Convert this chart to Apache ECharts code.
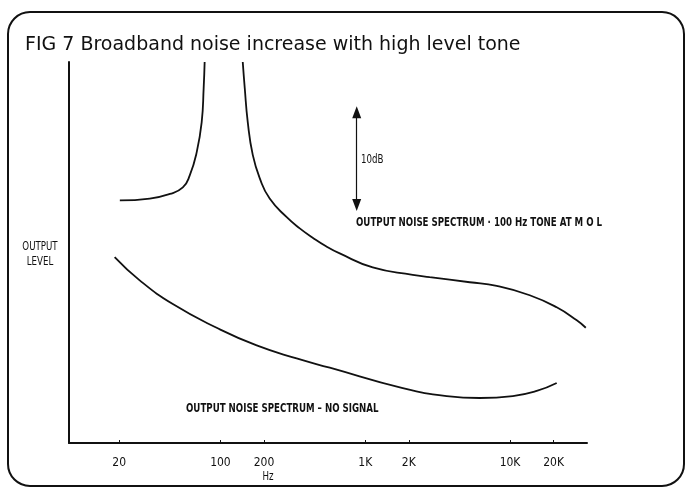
<!DOCTYPE html>
<html>
<head>
<meta charset="utf-8">
<script src="https://cdn.jsdelivr.net/npm/echarts@6/dist/echarts.min.js"></script>
<style>
  html, body { margin: 0; padding: 0; background: #fff; }
  #main { width: 686px; height: 490px; }
</style>
</head>
<body>
<div id="main"></div>
<script>
// x axis ticks (Hz) and their printed labels
var tickHz = [20, 100, 200, 1000, 2000, 10000, 20000];
var tickText = ['20', '100', '200', '1K', '2K', '10K', '20K'];

// output level, dB above an arbitrary floor
var noSignal = [
    [18.6, 20.0], [27.7, 17.5], [46.9, 14.95], [94.2, 12.4], [178, 10.5],
    [336, 9.1], [569, 8.1], [1817, 5.9], [3653, 5.05],
    [6180, 4.84], [10450, 5.05], [15290, 5.6], [21000, 6.45]
];
// 100 Hz tone: skirt below the tone, then skirt above it
var toneBelow = [
    [20.2, 26.1], [32.5, 26.3], [44.7, 26.8], [55, 27.5], [61.4, 28.8],
    [68.6, 31.3], [74.2, 34.5], [76.6, 38.2], [77.8, 41]
];
var toneAbove = [
    [142.6, 41], [147.2, 38.2], [154.5, 34.5], [167.2, 31.0], [186.7, 28.5],
    [218.8, 26.3], [287, 24.3], [353, 23.1], [433.5, 22.1], [533, 21.2],
    [666.8, 20.4], [1127, 18.9], [2128, 18.1], [2786, 17.85], [5272, 17.3],
    [8091, 16.9], [13680, 15.9], [21000, 14.6], [28900, 13.2], [33350, 12.4]
];
// the 10 dB scale arrow
var arrowHz = 873;
var arrowDb = [25.6, 35.6];

var ink = '#111';
var narrow = '"DejaVu Sans Condensed", "Liberation Sans Narrow", sans-serif';

var myChart = echarts.init(document.getElementById('main'));

function curve(data) {
    return {
        type: 'line',
        data: data,
        smooth: 0.5,
        showSymbol: false,
        lineStyle: { color: ink, width: 1.8 }
    };
}

// squeezed stencil-like lettering
function label(x, y, text, bold, align) {
    return {
        type: 'text',
        x: x,
        y: y,
        scaleX: 0.74,
        silent: true,
        style: {
            text: text,
            fill: ink,
            font: (bold ? 'bold ' : '') + '13px ' + narrow,
            align: align || 'left',
            verticalAlign: 'middle',
            lineHeight: 15
        }
    };
}

var lowSeries = curve(noSignal);
lowSeries.markLine = {
    silent: true,
    symbol: ['triangle', 'triangle'],
    symbolSize: [9, 12],
    lineStyle: { color: ink, type: 'solid', width: 1.2 },
    label: { show: false },
    data: [[{ coord: [arrowHz, arrowDb[1]] }, { coord: [arrowHz, arrowDb[0]] }]]
};

var option = {
    animation: false,
    title: {
        text: 'FIG 7 Broadband noise increase with high level tone',
        left: 20,
        top: 31,
        textStyle: {
            fontFamily: 'DejaVu Sans',
            fontSize: 19,
            fontWeight: 'normal',
            color: ink
        }
    },
    grid: { left: 69, right: 99, top: 62, bottom: 47 },
    xAxis: {
        type: 'log',
        min: 9,
        max: 34000,
        axisLine: { lineStyle: { color: ink, width: 2 } },
        axisTick: { customValues: tickHz, length: 3, inside: true, lineStyle: { color: ink } },
        axisLabel: {
            customValues: tickHz,
            color: ink,
            fontFamily: narrow,
            fontSize: 12,
            margin: 14,
            formatter: function (v) {
                for (var i = 0; i < tickHz.length; i++) {
                    if (Math.abs(v - tickHz[i]) / tickHz[i] < 0.01) return tickText[i];
                }
                return '';
            }
        },
        splitLine: { show: false },
        minorTick: { show: false }
    },
    yAxis: {
        type: 'value',
        min: 0,
        max: 41,
        axisLine: { show: true, lineStyle: { color: ink, width: 2 } },
        axisTick: { show: false },
        axisLabel: { show: false },
        splitLine: { show: false }
    },
    graphic: [
        {
            type: 'rect',
            shape: { x: 8, y: 12, width: 676, height: 474, r: 22 },
            style: { fill: 'none', stroke: ink, lineWidth: 2 },
            silent: true
        },
        label(40, 254, 'OUTPUT\nLEVEL', false, 'center'),
        label(361, 160, '10dB', false),
        label(356, 223, 'OUTPUT NOISE SPECTRUM · 100 Hz TONE AT M O L', true),
        label(186, 409, 'OUTPUT NOISE SPECTRUM – NO SIGNAL', true),
        label(268, 477, 'Hz', false, 'center')
    ],
    series: [lowSeries, curve(toneBelow), curve(toneAbove)]
};

myChart.setOption(option);
</script>
</body>
</html>
